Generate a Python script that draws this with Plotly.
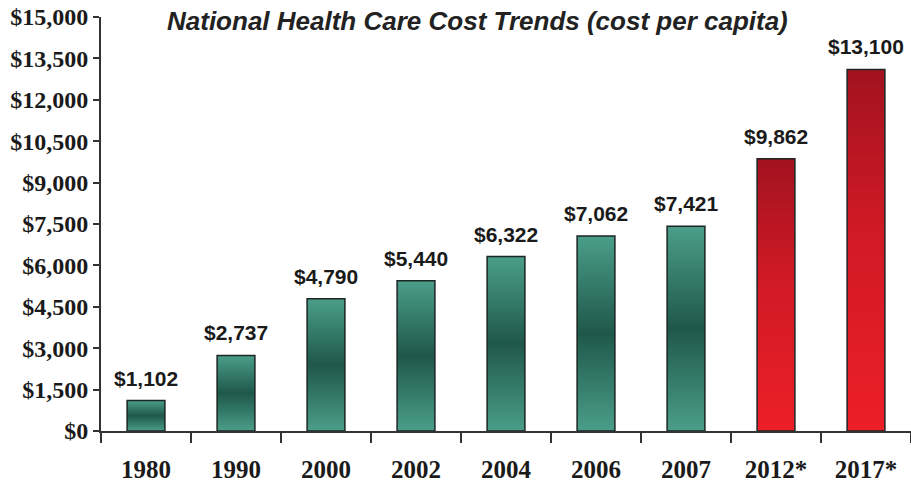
import plotly.graph_objects as go

# Per-capita national health care cost, actual and projected (*)
years = ["1980", "1990", "2000", "2002", "2004", "2006", "2007", "2012*", "2017*"]
costs = [1102, 2737, 4790, 5440, 6322, 7062, 7421, 9862, 13100]
projected = [False, False, False, False, False, False, False, True, True]
y_ticks = [0, 1500, 3000, 4500, 6000, 7500, 9000, 10500, 12000, 13500, 15000]

HALF_W = 0.21  # half of a bar's width in category units

teal_scale = [[0, "#4a9e89"], [0.5, "#1f584a"], [1, "#4a9e89"]]
red_scale = [[0, "#ec1f27"], [0.55, "#d01a25"], [1, "#a2121f"]]

fig = go.Figure()

for i, (yr, v, proj) in enumerate(zip(years, costs, projected)):
    xs = [i - HALF_W, i - HALF_W, i + HALF_W, i + HALF_W, i - HALF_W]
    ys = [0, v, v, 0, 0]
    fig.add_trace(go.Scatter(
        x=xs, y=ys, mode="lines", fill="toself",
        fillgradient=dict(type="vertical",
                          colorscale=red_scale if proj else teal_scale),
        line=dict(color="#1c2522", width=1.5),
        hoverinfo="skip", showlegend=False,
    ))
    fig.add_annotation(
        x=i, y=v, text=f"${v:,}", showarrow=False,
        yanchor="bottom", yshift=9,
        font=dict(family="Liberation Sans Narrow, Arial Narrow, Liberation Sans",
                  size=21, color="#1a1a1a", weight="bold"),
    )

fig.add_annotation(
    x=(477 - 101) / 810, y=15000, xref="paper", yref="y",
    text="<b><i>National Health Care Cost Trends (cost per capita)</i></b>",
    showarrow=False, yanchor="middle", yshift=-4,
    font=dict(family="Liberation Sans, Arial", size=26, color="#222222"),
)

fig.update_xaxes(
    range=[-0.5, len(years) - 0.5],
    tickmode="array", tickvals=list(range(len(years))), ticktext=years,
    ticks="", ticklabelstandoff=15,
    minor=dict(tick0=-0.5, dtick=1, ticks="outside", ticklen=10,
               tickwidth=2, tickcolor="#333333"),
    showline=True, linecolor="#333333", linewidth=2,
    showgrid=False, zeroline=False, fixedrange=True,
    tickfont=dict(family="Liberation Serif, Times New Roman", size=25,
                  color="#1a1a1a", weight="bold"),
)
fig.update_yaxes(
    range=[0, 15000],
    tickmode="array", tickvals=y_ticks,
    ticktext=[f"${t:,}" for t in y_ticks],
    ticks="outside", ticklen=6, tickwidth=2, tickcolor="#333333",
    showline=True, linecolor="#333333", linewidth=2,
    showgrid=False, zeroline=False, fixedrange=True,
    tickfont=dict(family="Liberation Serif, Times New Roman", size=24,
                  color="#1a1a1a", weight="bold"),
)

fig.update_layout(
    width=911, height=498,
    margin=dict(l=101, r=0, t=17, b=67),
    paper_bgcolor="white", plot_bgcolor="white",
    showlegend=False,
)

fig.write_html("out.html")
